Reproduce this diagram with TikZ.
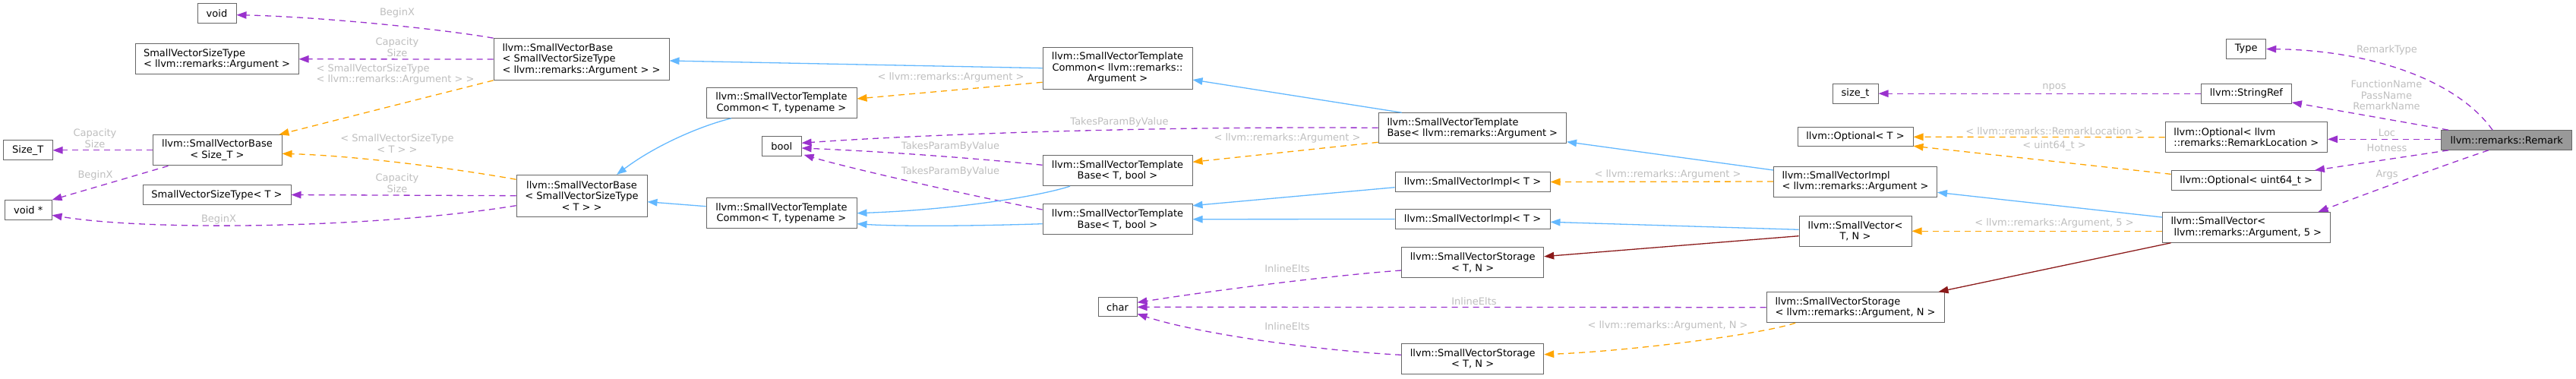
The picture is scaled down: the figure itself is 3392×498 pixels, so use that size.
\documentclass[tikz,border=0pt]{standalone}
\usepackage{fontspec}
\setmainfont{DejaVu Sans}
\usetikzlibrary{arrows.meta}
\definecolor{usecol}{HTML}{9A32CD}
\definecolor{instcol}{HTML}{FFA500}
\definecolor{pubcol}{HTML}{63B8FF}
\definecolor{protcol}{HTML}{8B1A1A}
\definecolor{lblcol}{HTML}{BEBEBE}
\definecolor{boxcol}{HTML}{666666}
\definecolor{rootfill}{HTML}{999999}
\newcommand\nf{\fontsize{13}{14.5}\selectfont}
\begin{document}
\begin{tikzpicture}[x=1pt,y=-1pt,
  box/.style={draw=boxcol,fill=white,line width=1pt,inner sep=0pt,font=\nf,text=black},
  lbl/.style={font=\nf,text=lblcol,inner sep=0pt,align=center},
  conn/.style={line width=1.3pt,-{Triangle[length=13pt,width=9.5pt]}},
  usage/.style={conn,draw=usecol,dash pattern=on 8pt off 6pt},
  inst/.style={conn,draw=instcol,dash pattern=on 8pt off 6pt},
  pub/.style={conn,draw=pubcol},
  prot/.style={conn,draw=protcol}]
\useasboundingbox (0,0) rectangle (3392,498);

% ---------- nodes ----------
\node[box,minimum width=51pt,minimum height=25.7pt] (void) at (285.5,17.8) {void};
\node[box,align=left,minimum width=215pt,minimum height=40.3pt] (svstArg) at (285.5,77.8) {SmallVectorSizeType\\< llvm::remarks::Argument >};
\node[box,minimum width=64.5pt,minimum height=25.7pt] (sizeT) at (36.8,197.8) {Size\_T};
\node[box,align=center,minimum width=170pt,minimum height=40.3pt] (svbSize) at (286,197.8) {llvm::SmallVectorBase\\< Size\_T >};
\node[box,minimum width=195pt,minimum height=25.7pt] (svstT) at (285.5,256.5) {SmallVectorSizeType< T >};
\node[box,minimum width=61.5pt,minimum height=25.7pt] (voidp) at (37.3,276.5) {void *};
\node[box,align=left,minimum width=231pt,minimum height=54.7pt] (svbArg) at (765.5,78) {llvm::SmallVectorBase\\< SmallVectorSizeType\\< llvm::remarks::Argument > >};
\node[box,align=center,minimum width=198pt,minimum height=40pt] (svtcT1) at (1029,135.3) {llvm::SmallVectorTemplate\\Common< T, typename >};
\node[box,minimum width=51.5pt,minimum height=25.7pt] (bool) at (1029.3,192.5) {bool};
\node[box,align=center,minimum width=172pt,minimum height=54.7pt] (svbT) at (766,257.7) {llvm::SmallVectorBase\\< SmallVectorSizeType\\< T > >};
\node[box,align=center,minimum width=198pt,minimum height=40pt] (svtcT2) at (1029,280.7) {llvm::SmallVectorTemplate\\Common< T, typename >};
\node[box,align=center,minimum width=197pt,minimum height=54.7pt] (svtcArg) at (1471.5,89.7) {llvm::SmallVectorTemplate\\Common< llvm::remarks::\\Argument >};
\node[box,align=center,minimum width=197pt,minimum height=40.3pt] (svtbT1) at (1471.5,224.5) {llvm::SmallVectorTemplate\\Base< T, bool >};
\node[box,align=center,minimum width=197pt,minimum height=40pt] (svtbT2) at (1471.5,288.7) {llvm::SmallVectorTemplate\\Base< T, bool >};
\node[box,minimum width=51pt,minimum height=25.3pt] (char) at (1471.5,404.3) {char};
\node[box,align=left,minimum width=247.5pt,minimum height=40pt] (svtbArg) at (1938.8,168.7) {llvm::SmallVectorTemplate\\Base< llvm::remarks::Argument >};
\node[box,minimum width=204pt,minimum height=25.7pt] (svimplT1) at (1939,239.5) {llvm::SmallVectorImpl< T >};
\node[box,minimum width=204pt,minimum height=25.7pt] (svimplT2) at (1939,288.5) {llvm::SmallVectorImpl< T >};
\node[box,align=center,minimum width=187pt,minimum height=40.3pt] (svstorT1) at (1939.2,345.8) {llvm::SmallVectorStorage\\< T, N >};
\node[box,align=center,minimum width=187pt,minimum height=40.3pt] (svstorT2) at (1939.2,472.5) {llvm::SmallVectorStorage\\< T, N >};
\node[box,minimum width=60pt,minimum height=25.7pt] (sizet) at (2443,123.2) {size\_t};
\node[box,minimum width=152pt,minimum height=25.3pt] (optT) at (2443,180.3) {llvm::Optional< T >};
\node[box,align=left,minimum width=215pt,minimum height=40pt] (svimplArg) at (2443,239) {llvm::SmallVectorImpl\\< llvm::remarks::Argument >};
\node[box,align=center,minimum width=148pt,minimum height=40pt] (svTN) at (2443,304.3) {llvm::SmallVector<\\T, N >};
\node[box,align=left,minimum width=234pt,minimum height=40pt] (svstorArg) at (2443,404.7) {llvm::SmallVectorStorage\\< llvm::remarks::Argument, N >};
\node[box,minimum width=52pt,minimum height=25.7pt] (type) at (2957.7,64.5) {Type};
\node[box,minimum width=119pt,minimum height=25.7pt] (stringref) at (2957.9,123.2) {llvm::StringRef};
\node[box,align=left,minimum width=213.5pt,minimum height=40pt] (optLoc) at (2957.8,180.7) {llvm::Optional< llvm\\::remarks::RemarkLocation >};
\node[box,minimum width=197.4pt,minimum height=26pt] (optU64) at (2957.7,237.7) {llvm::Optional< uint64\_t >};
\node[box,align=left,minimum width=220.5pt,minimum height=40pt] (svArg5) at (2957.8,299.3) {llvm::SmallVector<\\\hspace*{4.1pt}llvm::remarks::Argument, 5 >};
\node[box,fill=rootfill,minimum width=172.5pt,minimum height=25.7pt] (remark) at (3300.7,184.5) {llvm::remarks::Remark};

% ---------- connectors ----------
\draw[usage] (svbArg.north west) .. controls (580,38) and (420,22) .. ([yshift=-1.9pt]void.east);
\draw[usage] (svbArg.west) -- (svstArg.east);
\draw[inst] (svbArg.south west) -- ([xshift=-4pt]svbSize.north east);
\draw[usage] (svbSize.west) -- (sizeT.east);
\draw[usage] ([xshift=21pt]svbSize.south west) -- (voidp.north east);
\draw[inst] ([yshift=-6.4pt]svbT.north west) .. controls (600,222) and (470,205) .. ([yshift=-4.5pt]svbSize.east);
\draw[usage] (svbT.west) -- (svstT.east);
\draw[usage] ([yshift=-13pt]svbT.west) .. controls (500,300) and (200,305) .. ([yshift=-6.8pt]voidp.east);

\draw[pub] (svtcArg.west) -- ([yshift=-2pt]svbArg.east);
\draw[inst] ([yshift=-18.6pt]svtcArg.west) -- ([yshift=5.3pt]svtcT1.east);
\draw[pub] ([xshift=-66pt]svtcT1.south) .. controls (925,165) and (865,190) .. ([xshift=46pt]svbT.north);
\draw[pub] ([yshift=9pt]svtcT2.west) -- ([yshift=-8pt]svbT.east);

\draw[pub] ([xshift=31pt]svtbArg.north west) -- ([yshift=-15.3pt]svtcArg.east);
\draw[usage] ([yshift=0.4pt]svtbArg.west) .. controls (1500,166) and (1200,178) .. ([yshift=4.2pt]bool.east);
\draw[inst] ([yshift=-18.6pt]svtbArg.west) -- ([yshift=11.2pt]svtbT1.east);
\draw[usage] ([yshift=7.2pt]svtbT1.west) .. controls (1250,205) and (1130,198) .. ([yshift=-2.5pt]bool.east);
\draw[usage] ([yshift=12.7pt]svtbT2.west) .. controls (1280,258) and (1120,222) .. ([xshift=3pt,yshift=2pt]bool.south east);
\draw[pub] ([xshift=-62.5pt]svtbT1.south) .. controls (1370,258) and (1260,276) .. (svtcT2.east);
\draw[pub] ([yshift=-6pt]svtbT2.west) .. controls (1270,298) and (1180,298) .. ([yshift=-14pt]svtcT2.east);

\draw[pub] ([yshift=15pt]svimplArg.west) -- ([yshift=-18pt]svtbArg.east);
\draw[inst] (svimplArg.west) -- (svimplT1.east);
\draw[pub] ([yshift=-7.2pt]svimplT1.west) -- ([yshift=18pt]svtbT2.east);
\draw[pub] (svimplT2.west) -- (svtbT2.east);
\draw[pub] ([yshift=2pt]svTN.west) -- ([yshift=-3.8pt]svimplT2.east);
\draw[prot] ([yshift=-6.4pt]svTN.west) -- ([yshift=8.1pt]svstorT1.east);

\draw[inst] ([yshift=-5pt]svArg5.west) -- (svTN.east);
\draw[pub] ([yshift=13.3pt]svArg5.west) -- ([yshift=-14.3pt]svimplArg.east);
\draw[prot] ([xshift=11.5pt]svArg5.south west) -- ([xshift=-8pt]svstorArg.north east);

\draw[usage] (svstorArg.west) -- (char.east);
\draw[inst] ([xshift=38.6pt]svstorArg.south west) .. controls (2320,440) and (2150,462) .. ([yshift=5.8pt]svstorT2.east);
\draw[usage] ([yshift=-10.2pt]svstorT1.west) .. controls (1760,362) and (1600,382) .. ([yshift=6pt]char.east);
\draw[usage] ([yshift=5.2pt]svstorT2.west) .. controls (1740,462) and (1580,440) .. ([yshift=-9pt]char.east);

\draw[usage] (stringref.west) -- (sizet.east);
\draw[inst] (optLoc.west) -- (optT.east);
\draw[inst] ([yshift=8.4pt]optU64.west) -- ([yshift=-12pt]optT.east);

\draw[usage] ([xshift=-18.7pt]remark.north) .. controls (3235,105) and (3120,66) .. (type.east);
\draw[usage] ([xshift=10pt]remark.north west) -- ([yshift=1.7pt]stringref.south east);
\draw[usage] ([yshift=1.2pt]remark.west) -- ([yshift=-2.6pt]optLoc.east);
\draw[usage] ([xshift=10pt]remark.south west) -- ([xshift=-9pt]optU64.north east);
\draw[usage] ([xshift=-24pt]remark.south) .. controls (3225,215) and (3130,250) .. ([xshift=-16pt]svArg5.north east);

% ---------- labels ----------
\node[lbl] (l1) at (523,17.3) {BeginX};
\node[lbl] (l2) at (523,62.2) {Capacity\\Size};
\node[lbl,align=left] (l3) at (520.5,98) {< SmallVectorSizeType\\< llvm::remarks::Argument > >};
\node[lbl] (l4) at (125,182) {Capacity\\Size};
\node[lbl] (l5) at (125.5,230.7) {BeginX};
\node[lbl] (l6) at (523,189.2) {< SmallVectorSizeType\\< T > >};
\node[lbl] (l7) at (523,241.2) {Capacity\\Size};
\node[lbl] (l8) at (288,288.7) {BeginX};
\node[lbl] (l9) at (1252,102.3) {< llvm::remarks::Argument >};
\node[lbl] (l10) at (1474,160.7) {TakesParamByValue};
\node[lbl] (l11) at (1695,181.7) {< llvm::remarks::Argument >};
\node[lbl] (l12) at (1251.5,193.3) {TakesParamByValue};
\node[lbl] (l13) at (1251.5,225.7) {TakesParamByValue};
\node[lbl] (l14) at (1695,353.3) {InlineElts};
\node[lbl] (l15) at (1941,396.7) {InlineElts};
\node[lbl] (l16) at (1695,429.3) {InlineElts};
\node[lbl] (l17) at (2196,230) {< llvm::remarks::Argument >};
\node[lbl] (l18) at (2196,429.3) {< llvm::remarks::Argument, N >};
\node[lbl] (l19) at (2705,115) {npos};
\node[lbl] (l20) at (2705,172.3) {< llvm::remarks::RemarkLocation >};
\node[lbl] (l21) at (2705,192.3) {< uint64\_t >};
\node[lbl] (l22) at (2705,294.3) {< llvm::remarks::Argument, 5 >};
\node[lbl] (l23) at (3143,65.7) {RemarkType};
\node[lbl] (l24) at (3142.5,125.6) {FunctionName\\PassName\\RemarkName};
\node[lbl] (l25) at (3143,174.7) {Loc};
\node[lbl] (l26) at (3143,194.7) {Hotness};
\node[lbl] (l27) at (3143,230) {Args};
\end{tikzpicture}
\end{document}
